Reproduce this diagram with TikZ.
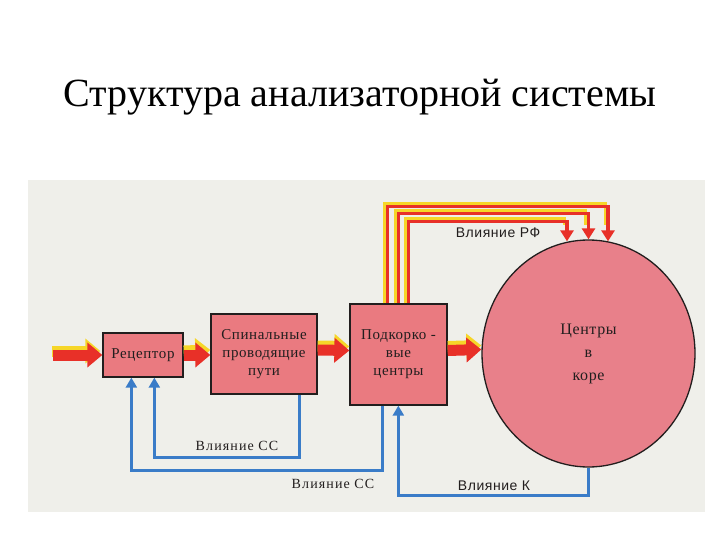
\documentclass[tikz,border=0pt]{standalone}
\usepackage{fontspec}
\setmainfont{Liberation Serif}
\setsansfont{Liberation Sans}
\usetikzlibrary{calc,shapes.geometric,arrows.meta}
\definecolor{Panel}{RGB}{239,239,234}
\definecolor{Block}{RGB}{234,122,128}
\definecolor{Cortex}{RGB}{232,128,138}
\definecolor{Signal}{RGB}{232,48,40}
\definecolor{Glow}{RGB}{246,214,40}
\definecolor{Feedback}{RGB}{58,124,200}
\definecolor{Ink}{RGB}{34,30,30}

\begin{document}
\begin{tikzpicture}[x=1pt, y=-1pt]
			\tikzstyle{block}=[draw=Ink, line width=1.3pt, fill=Block, shape=rectangle, align=center, inner sep=0pt, text=Ink, font=\fontsize{15}{18}\selectfont\addfontfeatures{LetterSpace=4}];
			\tikzstyle{flow}=[line width=11pt, color=Signal, -{Triangle[length=15pt, width=24pt]}];
			\tikzstyle{flowglow}=[line width=11pt, color=Glow, -{Triangle[length=15pt, width=24pt]}];
			\tikzstyle{rf}=[line width=3.5pt, color=Signal, -{Triangle[length=11pt, width=13pt]}];
			\tikzstyle{rfglow}=[line width=3pt, color=Glow];
			\tikzstyle{back}=[line width=3.5pt, color=Feedback, -{Triangle[length=10pt, width=11pt]}];
			\tikzstyle{tag}=[text=Ink, font=\fontsize{14}{16}\selectfont\addfontfeatures{LetterSpace=8}, inner sep=1pt];
			\tikzstyle{sftag}=[text=Ink, font=\sffamily\fontsize{14}{16}\selectfont\addfontfeatures{LetterSpace=4}, inner sep=1pt];
			\useasboundingbox (0,0) rectangle (720,540);
			\fill[white] (0,0) rectangle (720,540);
			\node (title) at (360,97) {\fontsize{40}{48}\selectfont Структура анализаторной системы};
			\fill[Panel] (28,180) rectangle (705,512);
			% blocks
			\node [block, minimum width=80pt, minimum height=44pt] (rec) at (143,355) {Рецептор};
			\node [block, minimum width=106pt, minimum height=80pt] (spin) at (264,354) {Спинальные\\проводящие\\пути};
			\node [block, minimum width=97pt, minimum height=101pt] (sub) at (398.5,354.5) {Подкорко -\\вые\\центры};
			\node [draw=Ink, line width=1.3pt, fill=Cortex, shape=ellipse, inner sep=0pt, minimum width=213pt, minimum height=227pt, align=center, text=Ink, font=\fontsize{16}{23}\selectfont\addfontfeatures{LetterSpace=4}] (cortex) at (588.5,353.5) {Центры\\в\\коре};
			\coordinate (in) at (53,355);
			% main flow
			\draw [flowglow, shorten >=1pt] ($(in)+(-1,-4)$) -- ($(rec.west)+(-1,-4)$);
			\draw [flow] (in) -- (rec.west);
			\draw [flowglow] ($(rec.east)+(0,-4)$) -- ($(spin.west)+(0,-4)$);
			\draw [flow] (rec.east) -- (spin.west |- rec.east);
			\draw [flowglow] ($(spin.east)+(0,-8)$) -- ($(sub.west)+(0,-8)$);
			\draw [flow] ($(spin.east)+(0,-4)$) -- ($(sub.west)+(0,-4)$);
			\draw [flowglow] ($(sub.east)+(0,-8)$) -- ($(cortex.west)+(0,-8)$);
			\draw [flow] ($(sub.east)+(0,-4)$) -- ($(cortex.west)+(0,-4)$);
			% influence of the reticular formation
			\draw [rfglow] ($(sub.north west)+(35,0)$) -- ++(0,-100) -| ($(cortex.north)+(16.5,-14)$);
			\draw [rfglow] ($(sub.north west)+(46,0)$) -- ++(0,-93) -| ($(cortex.north)+(-3,-14)$);
			\draw [rfglow] ($(sub.north west)+(56,0)$) -- ++(0,-85) -| ($(cortex.north)+(-24.5,-14)$);
			\draw [rf] ($(sub.north west)+(38,0)$) -- ++(0,-97) -| ($(cortex.north)+(19.5,2)$);
			\draw [rf] ($(sub.north west)+(49,0)$) -- ++(0,-90) -| ($(cortex.north)+(0,0)$);
			\draw [rf] ($(sub.north west)+(59,0)$) -- ++(0,-82) -| ($(cortex.north)+(-21.5,2)$);
			\node [sftag] (rftag) at (498,233) {Влияние РФ};
			% feedback
			\draw [back] ($(spin.south west)+(89,0)$) -- ++(0,63) -| ($(rec.south west)+(52,0)$);
			\draw [back] ($(sub.south west)+(33,0)$) -- ++(0,65) -| ($(rec.south west)+(29,0)$);
			\draw [back] (cortex.south) -- ++(0,28) -| ($(sub.south west)+(49,0)$);
			\node [tag] (cc1) at (237,446) {Влияние СС};
			\node [tag] (cc2) at (333,484) {Влияние СС};
			\node [sftag] (ktag) at (494,486) {Влияние К};
\end{tikzpicture}
\end{document}
